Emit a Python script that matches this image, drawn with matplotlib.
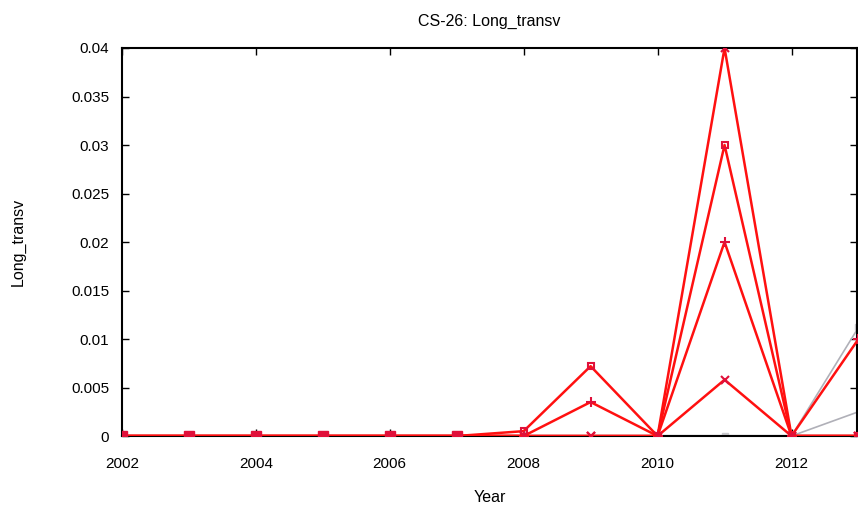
import numpy as np
import matplotlib.pyplot as plt

plt.rcParams['font.family'] = ['Liberation Sans', 'DejaVu Sans']

years = np.arange(2002, 2014)
nan = np.nan

# red series (one per marker style)
sq_vals   = [0, 0, 0, 0, 0, 0, 0.0005, 0.0072, 0, 0.030, 0, 0]
plus_vals = [0, 0, 0, 0, 0, 0, 0, 0.0035, 0, 0.020, 0, 0.0100]
x_vals    = [0, 0, 0, 0, 0, 0, 0, 0, 0, 0.0058, 0, 0]
star_vals = [0, 0, 0, 0, 0, 0, 0, 0, 0, 0.040, 0, 0]

# grey series, only last years
grey1_vals = [nan, nan, nan, nan, nan, nan, nan, nan, nan, 0, 0, 0.0112]
grey2_vals = [nan, nan, nan, nan, nan, nan, nan, nan, nan, 0, 0, 0.0025]

fig = plt.figure(figsize=(8.58, 5.09), dpi=100)
ax = fig.add_axes([0.142, 0.1434, 0.857, 0.7623])

ax.plot(years, grey1_vals, color='#b0b0b8', lw=1.2, marker='s', ms=4, mec='#c8c8cc', mfc='#c8c8cc', zorder=2)
ax.plot(years, grey2_vals, color='#b0b0b8', lw=1.2, zorder=2)

red = '#ff1010'
mk = '#e0103a'
ax.plot(years, star_vals, color=red, lw=1.8, marker='x', ms=6, mew=1.5, mec=mk, zorder=3)
ax.plot(years, sq_vals, color=red, lw=1.8, marker='s', ms=5, mfc='none', mew=1.5, mec=mk, zorder=3)
ax.plot(years, plus_vals, color=red, lw=1.8, marker='+', ms=7, mew=1.5, mec=mk, zorder=3)
ax.plot(years, x_vals, color=red, lw=1.8, marker='x', ms=6, mew=1.5, mec=mk, zorder=3)
ax.plot(years[:6], np.zeros(6), ls='none', marker='s', ms=7, color=mk, zorder=4)

ax.axhline(0, color='black', lw=1.5, zorder=1)

ax.set_xlim(2002, 2012.98)
ax.set_ylim(0, 0.04)
ax.set_xticks([2002, 2004, 2006, 2008, 2010, 2012])
ax.set_yticks([0, 0.005, 0.01, 0.015, 0.02, 0.025, 0.03, 0.035, 0.04])
ax.set_yticklabels(['0', '0.005', '0.01', '0.015', '0.02', '0.025', '0.03', '0.035', '0.04'])
ax.tick_params(direction='in', top=True, right=True, labelsize=11, length=5, width=1)
ax.tick_params(axis='y', pad=9)
ax.tick_params(axis='x', pad=15)
for s in ax.spines.values():
    s.set_linewidth(1.5)

ax.set_title('CS-26: Long_transv', fontsize=11.5, pad=16)
ax.set_xlabel('Year', fontsize=11.5, labelpad=14)
ax.set_ylabel('Long_transv', fontsize=11.5, labelpad=33)

fig.savefig('out.png', dpi=100)
